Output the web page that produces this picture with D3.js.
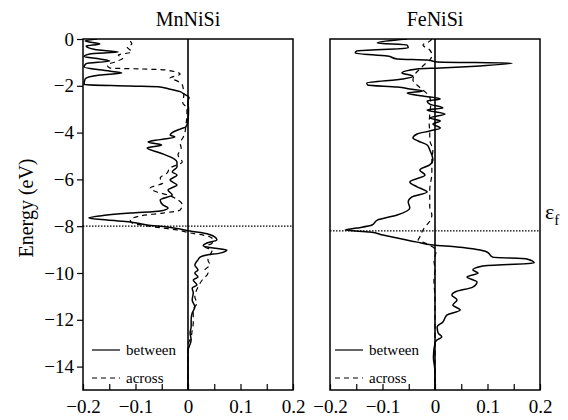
<!DOCTYPE html>
<html>
<head>
<meta charset="utf-8">
<script src="https://cdn.jsdelivr.net/npm/d3@7"></script>
<style>
  body { margin: 0; background: #fff; }
  svg { font-family: "Liberation Serif", "Times New Roman", serif; }
</style>
</head>
<body>
<svg id="chart" width="568" height="420"></svg>
<script>
// panel titles and Fermi levels (eV)
var panelNames = ["MnNiSi", "FeNiSi"];
var fermiLevels = [-8.0, -8.2];
var legendLabels = ["between", "across"];
var energyTicks = [0, -2, -4, -6, -8, -10, -12, -14];
var dosTicks = [-0.2, -0.15, -0.1, -0.05, 0, 0.05, 0.1, 0.15, 0.2];
var dosLabels = ["\u22120.2", "", "\u22120.1", "", "0", "", "0.1", "", "0.2"];

// [energy, value]
var mnBetween = [
  [0, -0.173], [-0.09, -0.196], [-0.21, -0.168], [-0.30, -0.194], [-0.45, -0.177],
  [-0.56, -0.133], [-0.64, -0.187], [-0.75, -0.198], [-0.85, -0.168], [-0.94, -0.149],
  [-1.05, -0.194], [-1.20, -0.198], [-1.35, -0.158], [-1.45, -0.126], [-1.54, -0.168],
  [-1.71, -0.196], [-1.95, -0.198], [-2.01, -0.110], [-2.05, -0.053], [-2.15, -0.034],
  [-2.25, -0.015], [-2.35, -0.008], [-2.50, 0.002], [-2.65, 0], [-3.03, 0.001],
  [-3.46, 0], [-3.76, -0.004], [-3.85, -0.015], [-4.0, -0.030], [-4.10, -0.034],
  [-4.19, -0.025], [-4.30, -0.053], [-4.40, -0.076], [-4.53, -0.050], [-4.66, -0.078],
  [-4.87, -0.053], [-5.09, -0.029], [-5.26, -0.021], [-5.47, -0.021], [-5.68, -0.030],
  [-5.81, -0.021], [-6.03, -0.034], [-6.24, -0.021], [-6.45, -0.038], [-6.67, -0.030],
  [-6.88, -0.053], [-7.09, -0.048], [-7.22, -0.038], [-7.35, -0.053], [-7.44, -0.110],
  [-7.56, -0.168], [-7.65, -0.189], [-7.74, -0.154], [-7.82, -0.110], [-7.95, -0.078],
  [-8.03, -0.040], [-8.12, -0.015], [-8.21, 0.004], [-8.29, 0.029], [-8.46, 0.051],
  [-8.59, 0.055], [-8.72, 0.036], [-8.85, 0.029], [-8.93, 0.048], [-9.02, 0.074],
  [-9.15, 0.061], [-9.23, 0.036], [-9.32, 0.023], [-9.44, 0.019], [-9.66, 0.013],
  [-9.87, 0.019], [-10.0, 0.013], [-10.17, 0.019], [-10.30, 0.010], [-10.51, 0.017],
  [-10.64, 0.008], [-10.85, 0.010], [-11.15, 0.008], [-11.45, 0.013], [-11.71, 0.008],
  [-12.0, 0.006], [-12.3, 0.006], [-12.56, 0.004], [-12.86, 0.006], [-13.16, 0.002],
  [-13.3, 0], [-15, 0]
];

var mnAcross = [
  [-0.09, -0.110], [-0.21, -0.107], [-0.34, -0.116], [-0.56, -0.107], [-0.68, -0.133],
  [-0.81, -0.124], [-0.98, -0.139], [-1.11, -0.154], [-1.24, -0.149], [-1.28, -0.091],
  [-1.32, -0.044], [-1.50, -0.015], [-1.67, -0.034], [-1.79, -0.021], [-2.01, -0.010],
  [-2.39, -0.008], [-2.74, -0.010], [-2.95, -0.002], [-3.25, -0.002], [-3.68, -0.004],
  [-4.02, -0.006], [-4.23, -0.010], [-4.44, -0.015], [-4.66, -0.013], [-4.96, -0.019],
  [-5.26, -0.011], [-5.51, -0.034], [-5.73, -0.040], [-5.94, -0.053], [-6.15, -0.048],
  [-6.37, -0.072], [-6.54, -0.059], [-6.67, -0.038], [-6.88, -0.019], [-7.09, -0.011],
  [-7.31, -0.015], [-7.44, -0.048], [-7.56, -0.091], [-7.74, -0.110], [-7.86, -0.107],
  [-7.99, -0.078], [-8.08, -0.048], [-8.16, -0.021], [-8.29, 0.004], [-8.38, 0.029],
  [-8.46, 0.042], [-8.59, 0.048], [-8.72, 0.046], [-8.89, 0.032], [-9.02, 0.046],
  [-9.23, 0.042], [-9.44, 0.038], [-9.66, 0.042], [-9.87, 0.032], [-10.0, 0.038],
  [-10.30, 0.027], [-10.60, 0.019], [-11.03, 0.013], [-11.28, 0.017], [-11.58, 0.010],
  [-11.88, 0.010], [-12.14, 0.010], [-12.44, 0.008], [-12.74, 0.006], [-13.08, 0],
  [-15, 0]
];

var feBetween = [
  [0, -0.053], [-0.17, -0.110], [-0.26, -0.053], [-0.38, -0.051], [-0.51, -0.149],
  [-0.60, -0.152], [-0.73, -0.091], [-0.85, -0.072], [-0.90, -0.015], [-0.98, 0.004],
  [-1.03, 0.147], [-1.15, 0.086], [-1.24, 0.010], [-1.28, -0.034], [-1.45, -0.063],
  [-1.58, -0.042], [-1.71, -0.061], [-1.88, -0.130], [-1.97, -0.128], [-2.05, -0.072],
  [-2.14, -0.048], [-2.22, -0.023], [-2.31, -0.053], [-2.44, -0.023], [-2.56, 0.010],
  [-2.65, -0.015], [-2.78, -0.010], [-2.95, 0.015], [-3.03, -0.015], [-3.21, 0.019],
  [-3.38, -0.010], [-3.50, 0.010], [-3.63, -0.004], [-3.80, 0.010], [-3.93, -0.010],
  [-4.06, -0.034], [-4.23, -0.042], [-4.36, -0.032], [-4.53, -0.015], [-4.74, -0.010],
  [-5.17, -0.004], [-5.38, -0.010], [-5.60, -0.029], [-5.81, -0.019], [-6.11, -0.048],
  [-6.32, -0.034], [-6.54, -0.015], [-6.75, -0.044], [-6.97, -0.051], [-7.22, -0.048],
  [-7.52, -0.072], [-7.74, -0.110], [-7.95, -0.120], [-8.08, -0.149], [-8.16, -0.171],
  [-8.25, -0.124], [-8.38, -0.099], [-8.50, -0.072], [-8.68, -0.034], [-8.80, -0.004],
  [-8.89, 0.042], [-9.10, 0.099], [-9.32, 0.110], [-9.40, 0.175], [-9.57, 0.189],
  [-9.70, 0.091], [-9.87, 0.072], [-10.0, 0.082], [-10.17, 0.061], [-10.38, 0.080],
  [-10.60, 0.072], [-10.81, 0.038], [-10.94, 0.032], [-11.15, 0.042], [-11.37, 0.034],
  [-11.58, 0.048], [-11.79, 0.023], [-12.09, 0.015], [-12.31, 0.004], [-12.56, 0.006],
  [-12.74, 0.013], [-12.86, 0.004], [-12.99, 0], [-13.6, -0.003], [-14.2, 0], [-15, 0]
];

var feAcross = [
  [0, -0.006], [-0.09, -0.010], [-0.26, -0.023], [-0.47, -0.010], [-0.68, -0.006],
  [-0.90, -0.010], [-1.07, -0.019], [-1.28, -0.029], [-1.50, -0.038], [-1.75, -0.042],
  [-2.01, -0.032], [-2.22, -0.021], [-2.44, -0.011], [-2.74, -0.008], [-3.21, -0.010],
  [-3.63, -0.011], [-4.02, -0.010], [-4.32, -0.010], [-4.74, -0.004], [-5.17, -0.006],
  [-5.73, -0.006], [-6.45, -0.010], [-7.18, -0.010], [-7.52, -0.006], [-7.82, -0.011],
  [-8.03, -0.019], [-8.25, -0.025], [-8.46, -0.029], [-8.59, -0.032], [-8.72, -0.019],
  [-8.89, -0.004], [-9.10, 0.002], [-9.44, -0.002], [-9.87, 0], [-10.3, -0.002],
  [-11.15, 0], [-15, 0]
];

var panelSeries = [[mnBetween, mnAcross], [feBetween, feAcross]];

var svg = d3.select("#chart");
var panelLeft = [83, 330];
var panelWidth = 210;
var plotTop = 39, plotBottom = 390;
var legendOffset = [9, 5];

var y = d3.scaleLinear().domain([-15, 0]).range([plotBottom, plotTop]);

panelNames.forEach(function(name, p) {
    var x = d3.scaleLinear().domain([-0.2, 0.2]).range([panelLeft[p], panelLeft[p] + panelWidth]);
    var g = svg.append("g");

    g.append("clipPath").attr("id", "clip" + p)
        .append("rect")
        .attr("x", panelLeft[p]).attr("y", plotTop)
        .attr("width", panelWidth).attr("height", plotBottom - plotTop);

    // zero line
    g.append("line")
        .attr("x1", x(0)).attr("x2", x(0))
        .attr("y1", plotTop).attr("y2", plotBottom)
        .attr("stroke", "#000").attr("stroke-width", 1.6);

    // Fermi level
    g.append("line")
        .attr("x1", x(-0.2)).attr("x2", x(0.2))
        .attr("y1", y(fermiLevels[p])).attr("y2", y(fermiLevels[p]))
        .attr("stroke", "#000").attr("stroke-width", 1.2)
        .attr("stroke-dasharray", "1.5,1.5");

    var line = d3.line()
        .curve(d3.curveMonotoneY)
        .x(function(d) { return x(d[1]); })
        .y(function(d) { return y(d[0]); });

    var curves = g.append("g").attr("clip-path", "url(#clip" + p + ")");
    curves.append("path")
        .attr("d", line(panelSeries[p][1]))
        .attr("fill", "none").attr("stroke", "#000")
        .attr("stroke-width", 1.2).attr("stroke-dasharray", "5,4");
    curves.append("path")
        .attr("d", line(panelSeries[p][0]))
        .attr("fill", "none").attr("stroke", "#000")
        .attr("stroke-width", 1.5).attr("stroke-linejoin", "round");

    // frame
    g.append("rect")
        .attr("x", panelLeft[p]).attr("y", plotTop)
        .attr("width", panelWidth).attr("height", plotBottom - plotTop)
        .attr("fill", "none").attr("stroke", "#000").attr("stroke-width", 1.5);

    // bottom axis, ticks pointing inward
    var xAxis = g.append("g")
        .attr("transform", "translate(0," + plotBottom + ")")
        .call(d3.axisBottom(x).tickValues(dosTicks)
            .tickSizeInner(-6).tickSizeOuter(0).tickPadding(10)
            .tickFormat(function(d, i) { return dosLabels[i]; }));
    xAxis.select(".domain").remove();
    xAxis.selectAll("line").attr("stroke-width", 1.2);
    xAxis.selectAll("text").attr("font-size", 19).attr("font-family", "Liberation Serif").attr("fill", "#000");

    if (p === 0) {
        var yAxis = g.append("g")
            .attr("transform", "translate(" + panelLeft[p] + ",0)")
            .call(d3.axisLeft(y).tickValues(energyTicks)
                .tickSizeInner(6).tickSizeOuter(0).tickPadding(3)
                .tickFormat(function(d) { return d === 0 ? "0" : "\u2212" + Math.abs(d); }));
        yAxis.select(".domain").remove();
        yAxis.selectAll("line").attr("stroke-width", 1.2);
        yAxis.selectAll("text").attr("font-size", 19).attr("font-family", "Liberation Serif").attr("fill", "#000");
    }

    // title
    g.append("text")
        .attr("x", panelLeft[p] + panelWidth / 2).attr("y", 26)
        .attr("text-anchor", "middle").attr("font-size", 20)
        .text(name);

    // legend
    var lx = panelLeft[p] + legendOffset[p];
    legendLabels.forEach(function(label, i) {
        var ly = 350 + i * 28;
        g.append("line")
            .attr("x1", lx).attr("x2", lx + 28)
            .attr("y1", ly).attr("y2", ly)
            .attr("stroke", "#000").attr("stroke-width", 1.2)
            .attr("stroke-dasharray", i === 0 ? null : "5,4");
        g.append("text")
            .attr("x", lx + 34).attr("y", ly + 5)
            .attr("font-size", 15)
            .text(label);
    });
});

// axis title
svg.append("text")
    .attr("transform", "translate(33,208) rotate(-90)")
    .attr("text-anchor", "middle")
    .attr("font-size", 20)
    .text("Energy (eV)");

// Fermi label
var ef = svg.append("text")
    .attr("x", 545).attr("y", 219)
    .attr("font-size", 22);
ef.append("tspan").text("\u03b5");
ef.append("tspan").attr("font-size", 15).attr("dy", 6).text("f");
</script>
</body>
</html>
